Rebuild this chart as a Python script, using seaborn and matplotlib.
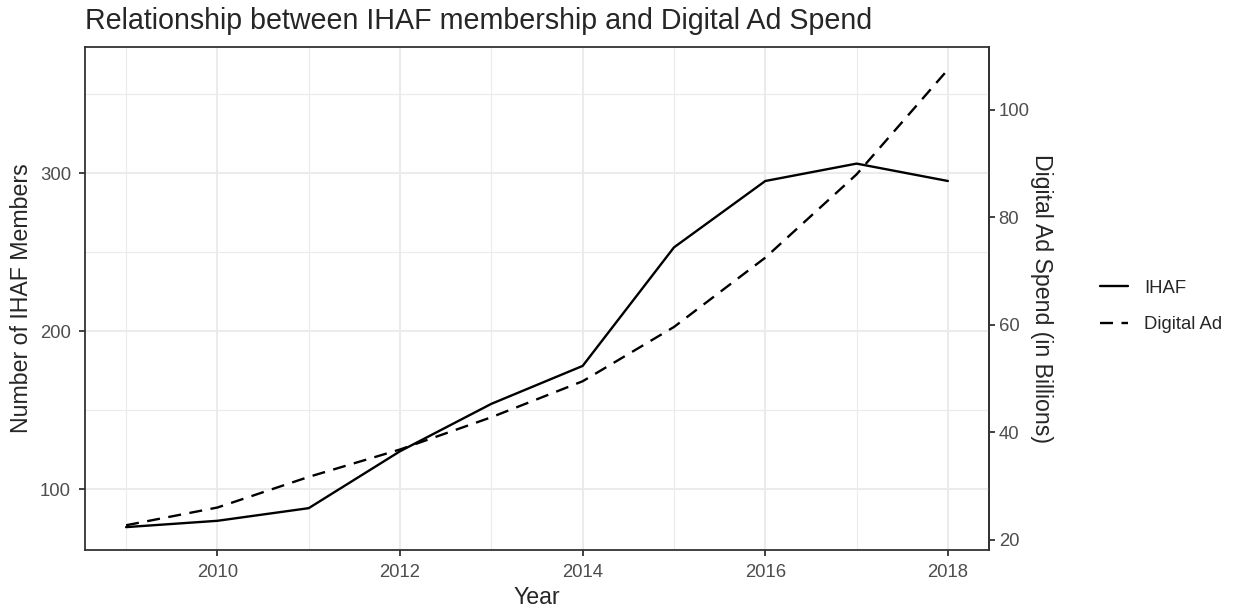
import numpy as np
import pandas as pd
import seaborn as sns
import matplotlib.pyplot as plt

# Dados
anos = [2009, 2010, 2011, 2012, 2013, 2014, 2015, 2016, 2017, 2018]
membros_ihaf = [76, 80, 88, 124, 154, 178, 253, 295, 306, 295]
gasto_digital = [22.7, 26.0, 31.7, 36.8, 42.8, 49.5, 59.6, 72.5, 88.0, 107.5]
escala = 3.4  # fator do eixo secundário

ticks_x = [2010, 2012, 2014, 2016, 2018]
ticks_x_menor = [2009, 2011, 2013, 2015, 2017]
ticks_y = [100, 200, 300]
ticks_y_menor = [150, 250, 350]
ticks_y2 = [20, 40, 60, 80, 100]

df = pd.DataFrame({'Year': anos, 'IHAF': membros_ihaf,
                   'Digital Ad': np.array(gasto_digital) * escala})
longo = df.melt(id_vars='Year', var_name='serie', value_name='valor')

sns.set_theme(style="white")
plt.rcParams['font.family'] = ['Liberation Sans', 'DejaVu Sans']

fig = plt.figure(figsize=(12.33, 6.09), dpi=100)
ax = fig.add_axes([85 / 1233, 1 - 550 / 609, (989 - 85) / 1233, (550 - 46.7) / 609])

ax.set_xticks(ticks_x)
ax.set_xticks(ticks_x_menor, minor=True)
ax.set_yticks(ticks_y)
ax.set_yticks(ticks_y_menor, minor=True)
ax.grid(which='major', color='#EBEBEB', linewidth=1.5)
ax.grid(which='minor', color='#EBEBEB', linewidth=0.8)
ax.set_axisbelow(True)

sns.lineplot(data=longo, x='Year', y='valor', style='serie',
             dashes={'IHAF': '', 'Digital Ad': (5.5, 3.6)}, color='black',
             linewidth=1.7, ax=ax, legend=True)

ax.set_xlim(2008.55, 2018.45)
lo = min(min(membros_ihaf), min(gasto_digital) * escala)
hi = max(max(membros_ihaf), max(gasto_digital) * escala)
pad = (hi - lo) * 0.05
ax.set_ylim(lo - pad, hi + pad)

for s in ax.spines.values():
    s.set_color('#333333')
    s.set_linewidth(1.3)
ax.tick_params(which='major', length=4, width=1.3, color='#333333', pad=6,
               labelsize=13.3, labelcolor='#4D4D4D', left=True, bottom=True)
ax.tick_params(which='minor', length=0)

sec = ax.secondary_yaxis('right', functions=(lambda v: v / escala, lambda v: v * escala))
sec.set_yticks(ticks_y2)
sec.tick_params(length=4, width=1.3, color='#333333', pad=3,
                labelsize=13.3, labelcolor='#4D4D4D')
sec.spines['right'].set_color('#333333')
sec.spines['right'].set_linewidth(1.3)
sec.set_ylabel('Digital Ad Spend (in Billions)', fontsize=16.7, rotation=-90,
               labelpad=16.5)

ax.set_xlabel('Year', fontsize=16.7, labelpad=3.7)
ax.set_ylabel('Number of IHAF Members', fontsize=16.7, labelpad=5)
ax.set_title('Relationship between IHAF membership and Digital Ad Spend',
             fontsize=20.6, loc='left', pad=13)

handles, labels = ax.get_legend_handles_labels()
ax.legend(handles, labels, loc='center left', bbox_to_anchor=(1.1044, 0.484),
          frameon=False, fontsize=13.3, handlelength=1.5, handletextpad=0.9,
          labelspacing=1.05)

fig.savefig('out.png', dpi=100)
